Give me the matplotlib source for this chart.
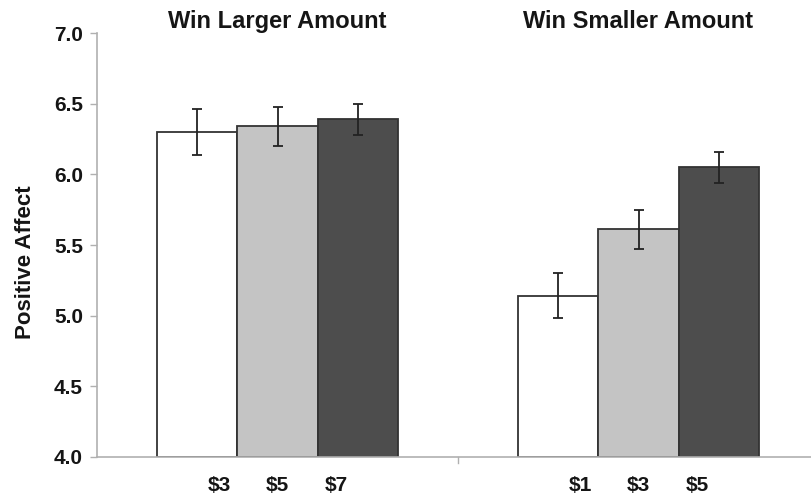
import numpy as np
import matplotlib.pyplot as plt

plt.rcParams['font.family'] = ['Liberation Sans', 'DejaVu Sans']

# data
groups = ["Win Larger Amount", "Win Smaller Amount"]
larger_labels = ["$3", "$5", "$7"]
smaller_labels = ["$1", "$3", "$5"]
larger_means = [6.30, 6.34, 6.39]
larger_err = [0.16, 0.14, 0.11]
smaller_means = [5.14, 5.61, 6.05]
smaller_err = [0.16, 0.14, 0.11]
bar_colors = ["#ffffff", "#c4c4c4", "#4d4d4d"]

fig = plt.figure(figsize=(8.11, 4.95), dpi=100)
ax = fig.add_axes([0.1196, 0.0768, 0.8804, 0.8565])

centers = [2.25, 6.75]
offsets = np.array([-1, 0, 1])
for c, means, err in [(centers[0], larger_means, larger_err),
                      (centers[1], smaller_means, smaller_err)]:
    ax.bar(c + offsets, np.array(means) - 4.0, bottom=4.0, width=1.0,
           color=bar_colors, edgecolor="#333333", linewidth=1.3, zorder=2)
    ax.errorbar(c + offsets, means, yerr=err, fmt="none", ecolor="#222222",
                elinewidth=1.3, capsize=3.5, capthick=1.3, zorder=3)

# group titles
for c, g in zip(centers, groups):
    ax.text(c, 7.035, g, ha="center", va="baseline", fontsize=17,
            fontweight="bold", color="#151515")

ax.set_xlim(0, 8.9)
ax.set_ylim(4.0, 7.0)
ax.set_yticks(np.arange(4.0, 7.01, 0.5))
ax.set_yticklabels([f"{v:.1f}" for v in np.arange(4.0, 7.01, 0.5)],
                   fontsize=15, fontweight="bold", color="#151515")
ax.tick_params(axis="y", length=5, color="#b0b0b0", width=1, pad=5)

# x labels sit closer together than the bars
lab_off = np.array([-0.73, 0, 0.73])
xt = list(centers[0] + lab_off) + list(centers[1] + lab_off)
ax.set_xticks(xt)
ax.set_xticklabels(larger_labels + smaller_labels, fontsize=15,
                   fontweight="bold", color="#151515")
ax.tick_params(axis="x", length=0, pad=14)
ax.axvline(4.5, ymin=-0.014, ymax=0, color="#b0b0b0", lw=1, clip_on=False)

ax.text(-0.100, 0.46, "Positive Affect", transform=ax.transAxes,
        rotation=90, ha="center", va="center", fontsize=16,
        fontweight="bold", color="#151515")

for s in ["top", "right"]:
    ax.spines[s].set_visible(False)
ax.spines["left"].set_color("#b0b0b0")
ax.spines["bottom"].set_color("#b0b0b0")
ax.spines["left"].set_linewidth(1.2)
ax.spines["bottom"].set_linewidth(1.2)

fig.savefig("out.png", dpi=100)
